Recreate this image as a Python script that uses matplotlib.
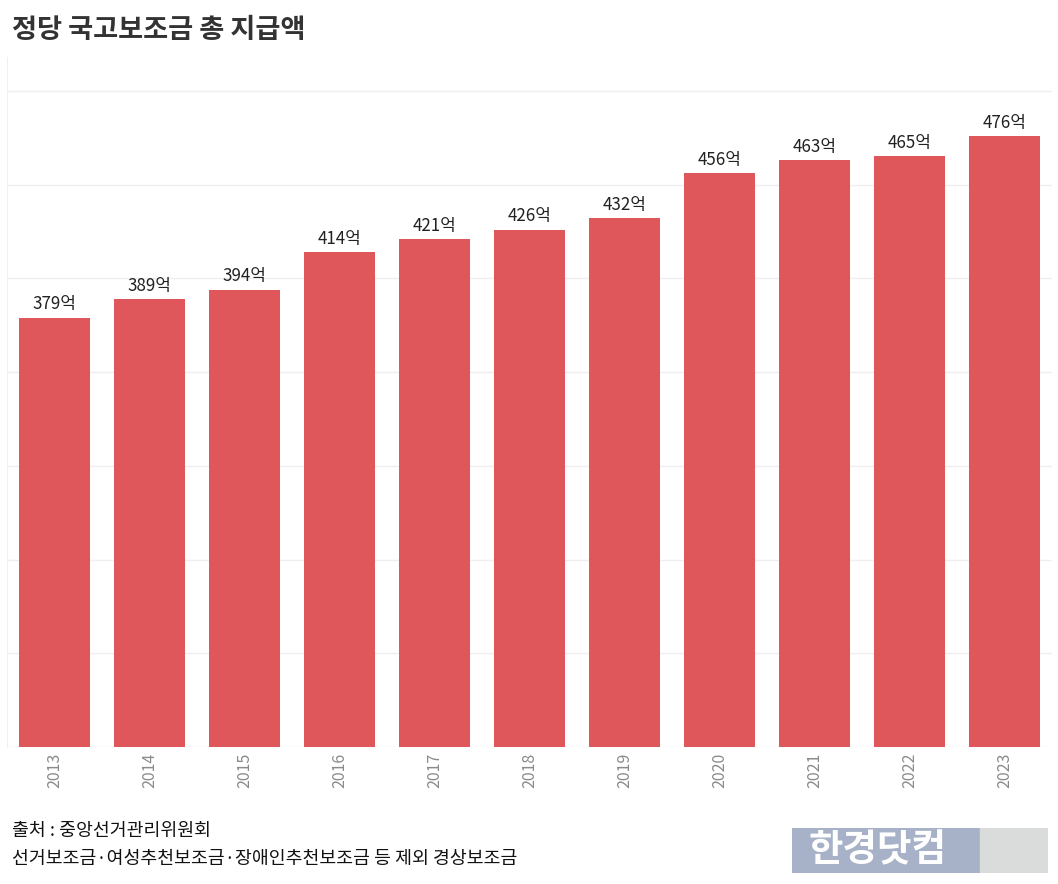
import matplotlib.pyplot as plt

plt.rcParams['font.family'] = ['Noto Sans CJK KR', 'DejaVu Sans']

# 연도별 정당 국고보조금 총 지급액 (억원)
years = ['2013', '2014', '2015', '2016', '2017', '2018', '2019', '2020', '2021', '2022', '2023']
amounts = [379, 389, 394, 414, 421, 426, 432, 456, 463, 465, 476]

W, H = 1058, 884
fig = plt.figure(figsize=(W / 100, H / 100), dpi=100)
fig.patch.set_facecolor('white')

ax = fig.add_axes([7 / W, (H - 747) / H, 1045 / W, 690 / H])
x = range(len(years))
bars = ax.bar(x, amounts, width=0.75, color='#e0575b', zorder=2)

for xi, v in zip(x, amounts):
    ax.annotate(f'{v}억', (xi, v), xytext=(0, 3), textcoords='offset points',
                ha='center', va='bottom', fontsize=12.2, color='#222222')

ax.set_xlim(-0.5, len(years) - 0.5)
ax.set_ylim(150, 518)
ax.set_yticks(range(150, 501, 50))
ax.set_yticklabels([])
ax.tick_params(axis='y', length=0)
ax.set_xticks(list(x))
ax.set_xticklabels(years, rotation=90, fontsize=11.5, color='#8a8a8a')
ax.tick_params(axis='x', length=0, pad=4)
ax.grid(axis='y', color='#efefef', linewidth=1, zorder=0)

for side in ['top', 'right', 'bottom']:
    ax.spines[side].set_visible(False)
ax.spines['left'].set_color('#f0f0f0')

# 제목과 출처
fig.text(12 / W, 1 - 30 / H, '정당 국고보조금 총 지급액', fontsize=19.6, fontweight='bold',
         color='#333333', ha='left', va='center')
fig.text(12 / W, 1 - 831 / H, '출처 : 중앙선거관리위원회', fontsize=13.2,
         color='#111111', ha='left', va='center')
fig.text(12 / W, 1 - 859 / H, '선거보조금·여성추천보조금·장애인추천보조금 등 제외 경상보조금',
         fontsize=13.2, color='#111111', ha='left', va='center')

# 로고
logo = fig.add_axes([792 / W, (H - 873) / H, 256 / W, 45 / H])
logo.set_xlim(0, 256)
logo.set_ylim(0, 45)
logo.axis('off')
logo.add_patch(plt.Rectangle((0, 0), 188, 45, color='#a7b2c8'))
logo.add_patch(plt.Rectangle((188, 0), 68, 45, color='#dadbdb'))
logo.text(86, 23, '한경닷컴', fontsize=27, fontweight='bold', color='white',
          ha='center', va='center')

fig.savefig('out.png', dpi=100)
